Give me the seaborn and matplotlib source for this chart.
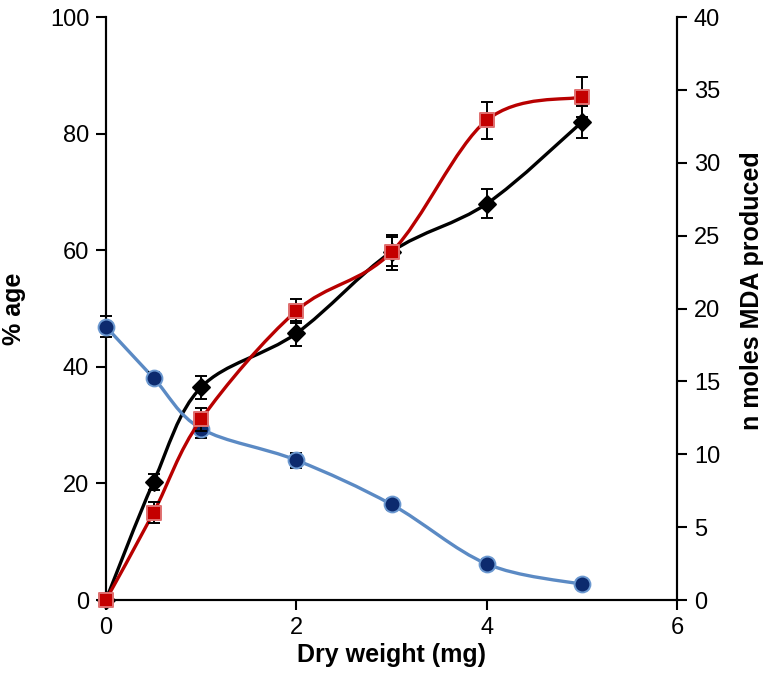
import numpy as np
import pandas as pd
import matplotlib
matplotlib.use("Agg")
import matplotlib.pyplot as plt
from matplotlib.path import Path
from matplotlib.patches import PathPatch
import seaborn as sns

sns.set_style("white")
plt.rcParams['font.family'] = ['Liberation Sans', 'DejaVu Sans']
plt.rcParams['text.color'] = 'black'
plt.rcParams['axes.labelcolor'] = 'black'

# data
dry_weight = [0, 0.5, 1, 2, 3, 4, 5]
red_pct = [0, 15.0, 31.0, 49.6, 59.7, 82.3, 86.3]
red_err = [0, 1.8, 2.0, 2.0, 3.0, 3.2, 3.5]
blue_pct = [46.9, 38.1, 29.4, 24.0, 16.4, 6.2, 2.7]
blue_err = [1.8, 1.1, 1.6, 1.3, 1.0, 0.8, 0.6]
mda_nmol = [0, 8.1, 14.6, 18.3, 23.9, 27.2, 32.8]
mda_err = [0, 0.55, 0.8, 0.85, 1.0, 1.0, 1.1]

x_ticks = [0, 2, 4, 6]
left_ticks = [0, 20, 40, 60, 80, 100]
right_ticks = [0, 5, 10, 15, 20, 25, 30, 35, 40]


def smooth_path(x, y):
    # Excel style smoothed line as cubic bezier segments
    pts = np.column_stack([x, y]).astype(float)
    n = len(pts)
    verts = [pts[0]]
    codes = [Path.MOVETO]
    for i in range(n - 1):
        p0 = pts[i - 1] if i > 0 else pts[i]
        p1 = pts[i]
        p2 = pts[i + 1]
        p3 = pts[i + 2] if i + 2 < n else pts[i + 1]
        c1 = p1 + (p2 - p0) / 6.0
        c2 = p2 - (p3 - p1) / 6.0
        verts += [c1, c2, p2]
        codes += [Path.CURVE4] * 3
    return Path(verts, codes)


def draw_series(ax, x, y, err, line_col, face, edge, marker, size, z):
    ax.add_patch(PathPatch(smooth_path(x, y), facecolor='none', edgecolor=line_col,
                           lw=2.4, zorder=z, clip_on=False))
    ax.errorbar(x, y, yerr=err, fmt='none', ecolor='black', elinewidth=1.4,
                capsize=4.5, capthick=1.4, zorder=z + 0.5, clip_on=False)
    df = pd.DataFrame({'x': x, 'y': y})
    sns.scatterplot(data=df, x='x', y='y', ax=ax, marker=marker, s=size,
                    color=face, edgecolor=edge, linewidth=1.4, zorder=z + 1,
                    clip_on=False, legend=False)


fig = plt.figure(figsize=(7.73, 6.85), dpi=100)
ax = fig.add_axes([0.137, 0.124, 0.739, 0.851])
ax2 = ax.twinx()

draw_series(ax, dry_weight, blue_pct, blue_err, '#5b8ac4', '#0c2a6e', '#6b98d0', 'o', 130, 3)
draw_series(ax, dry_weight, red_pct, red_err, '#b80000', '#c40000', '#e07070', 's', 100, 4)
draw_series(ax2, dry_weight, mda_nmol, mda_err, 'black', 'black', 'black', 'D', 75, 5)

ax.set_xlim(0, 6)
ax.set_ylim(0, 100)
ax2.set_ylim(0, 40)
ax.set_xticks(x_ticks)
ax.set_yticks(left_ticks)
ax2.set_yticks(right_ticks)

for a in (ax, ax2):
    a.spines['top'].set_visible(False)
    for s in a.spines.values():
        s.set_color('black')
        s.set_linewidth(1.5)
    a.tick_params(direction='out', length=7, width=1.5, colors='black',
                  labelsize=17, pad=5)
ax.tick_params(axis='x', bottom=True)
ax.tick_params(axis='y', left=True)
ax2.tick_params(axis='y', right=True)
ax.set_zorder(ax2.get_zorder() + 1)
ax.patch.set_visible(False)

ax.set_xlabel('Dry weight (mg)', fontsize=18, fontweight='bold', labelpad=3)
ax.set_ylabel('% age', fontsize=18, fontweight='bold', labelpad=17)
ax2.set_ylabel('n moles MDA produced', fontsize=18, fontweight='bold', labelpad=22)
ax2.yaxis.set_label_coords(1.11, 0.53)

fig.savefig('out.png', dpi=100)
